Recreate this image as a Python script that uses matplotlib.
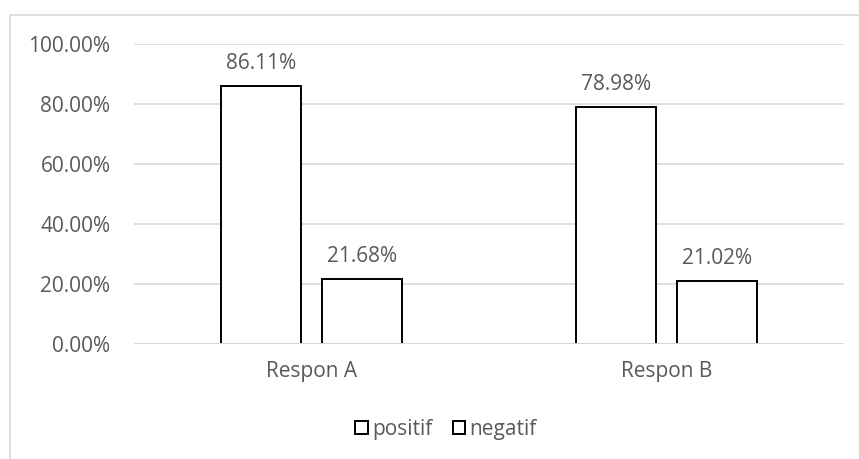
import matplotlib.pyplot as plt
import numpy as np
from matplotlib.patches import Patch, Rectangle

# data
categories = ['Respon A', 'Respon B']
positif = [0.8611, 0.7898]
negatif = [0.2168, 0.2102]
series_names = ['positif', 'negatif']

TEXT = '#595959'
GRID = '#D9D9D9'
FS = 15

plt.rcParams['font.family'] = ['Open Sans', 'DejaVu Sans']

fig = plt.figure(figsize=(8.59, 4.59), dpi=100)
ax = fig.add_axes([134 / 859, 1 - 344 / 459, 710 / 859, 300 / 459])

# outer chart border (light gray, partially cropped like the original)
fig.patches.append(Rectangle((10 / 859, -0.05), 1.2, 1 - 15 / 459 + 0.05,
                             transform=fig.transFigure, fill=False,
                             edgecolor=GRID, linewidth=1.2, zorder=0))

x = np.arange(len(categories))
w = 0.225
off = w / 2 + 0.0296

b1 = ax.bar(x - off, positif, w, facecolor='white', edgecolor='black', linewidth=1.4, zorder=2)
b2 = ax.bar(x + off, negatif, w, facecolor='white', edgecolor='black', linewidth=1.4, zorder=2)

for bars, vals in ((b1, positif), (b2, negatif)):
    for bar, v in zip(bars, vals):
        ax.annotate(f'{v * 100:.2f}%', (bar.get_x() + bar.get_width() / 2, v),
                    xytext=(0, 16), textcoords='offset points',
                    ha='center', va='center', fontsize=FS, color=TEXT)

ax.set_xlim(-0.5, 1.5)
ax.set_ylim(0, 1.0)
ax.set_yticks(np.arange(0, 1.01, 0.2))
ax.set_yticklabels([f'{t * 100:.2f}%' for t in np.arange(0, 1.01, 0.2)])
ax.set_xticks(x)
ax.set_xticklabels(categories)

ax.grid(axis='y', color=GRID, linewidth=1.2, zorder=0)
ax.axhline(0, color=GRID, linewidth=1.4, zorder=3)
for s in ax.spines.values():
    s.set_visible(False)
ax.tick_params(axis='both', length=0, labelsize=FS, colors=TEXT)
ax.tick_params(axis='y', pad=17)
ax.tick_params(axis='x', pad=12)

handles = [Patch(facecolor='white', edgecolor='black', linewidth=1.4, label=n)
           for n in series_names]
fig.legend(handles=handles, loc='center', bbox_to_anchor=(446 / 859, 1 - 429 / 459),
           ncol=2, frameon=False, fontsize=FS, labelcolor=TEXT,
           handlelength=0.6, handleheight=0.6, handletextpad=0.2, columnspacing=1.0)

fig.savefig('out.png', dpi=100)
